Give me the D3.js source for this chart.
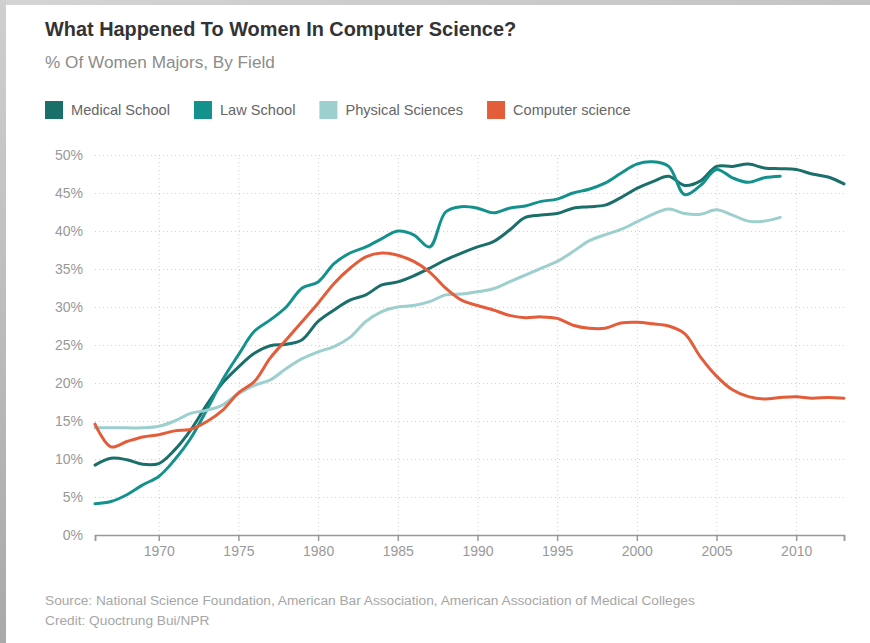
<!DOCTYPE html>
<html>
<head>
<meta charset="utf-8">
<script src="https://cdn.jsdelivr.net/npm/d3@7"></script>
<style>
  body { margin: 0; background: #fff; font-family: "Liberation Sans", Arial, sans-serif; }
</style>
</head>
<body>
<div id="chart"></div>
<script>
// data (% of women majors)
var years = d3.range(1966, 2014);
var medicalSchool = [9.2, 10.1, 9.9, 9.3, 9.4, 11.2, 13.8, 17.1, 20.0, 22.1, 23.9, 24.9, 25.1, 25.7, 28.1, 29.6, 30.9, 31.6, 32.9, 33.3, 34.1, 35.1, 36.2, 37.1, 37.9, 38.6, 40.1, 41.8, 42.1, 42.3, 43.0, 43.2, 43.4, 44.4, 45.6, 46.5, 47.2, 46.0, 46.6, 48.5, 48.5, 48.8, 48.3, 48.2, 48.1, 47.5, 47.1, 46.2];
var lawSchool = [4.1, 4.4, 5.3, 6.6, 7.7, 9.9, 12.7, 16.4, 20.4, 23.7, 26.8, 28.3, 30.0, 32.5, 33.3, 35.7, 37.1, 37.9, 39.0, 40.0, 39.5, 37.9, 42.5, 43.2, 43.0, 42.4, 43.0, 43.3, 43.9, 44.2, 45.0, 45.5, 46.3, 47.6, 48.8, 49.1, 48.5, 44.8, 46.0, 48.1, 47.0, 46.4, 47.0, 47.2];
var physicalSciences = [14.1, 14.1, 14.1, 14.1, 14.3, 15.0, 16.0, 16.4, 17.1, 18.6, 19.7, 20.4, 21.9, 23.2, 24.1, 24.8, 26.0, 28.1, 29.4, 30.0, 30.2, 30.7, 31.6, 31.7, 32.0, 32.4, 33.3, 34.2, 35.1, 36.0, 37.3, 38.7, 39.5, 40.2, 41.2, 42.2, 42.9, 42.3, 42.2, 42.8, 42.1, 41.3, 41.3, 41.8];
var computerScience = [14.6, 11.6, 12.3, 12.9, 13.2, 13.7, 13.9, 14.9, 16.4, 18.7, 20.2, 23.3, 25.7, 28.1, 30.5, 33.1, 35.1, 36.6, 37.1, 36.8, 36.0, 34.6, 32.5, 30.9, 30.2, 29.6, 28.9, 28.6, 28.7, 28.5, 27.6, 27.2, 27.2, 27.9, 28.0, 27.8, 27.5, 26.5, 23.4, 20.9, 19.1, 18.2, 17.9, 18.1, 18.2, 18.0, 18.1, 18.0];

var seriesNames = ["Medical School", "Law School", "Physical Sciences", "Computer science"];
var seriesColors = ["#1b6f6b", "#13918c", "#9ccfcd", "#e35d3a"];
var seriesValues = [medicalSchool, lawSchool, physicalSciences, computerScience];

var yTicks = [0, 5, 10, 15, 20, 25, 30, 35, 40, 45, 50];
var xTicks = [1970, 1975, 1980, 1985, 1990, 1995, 2000, 2005, 2010];

var svgWidth = 870;
var svgHeight = 643;

var margin = { top: 155, right: 26, bottom: 108, left: 95 };
var width = svgWidth - margin.left - margin.right;
var height = svgHeight - margin.top - margin.bottom;

var svg = d3.select("#chart")
  .append("svg")
  .attr("width", svgWidth)
  .attr("height", svgHeight);

// gray page edges
var defs = svg.append("defs");
var grad = defs.append("linearGradient").attr("id", "edge").attr("x1", 0).attr("x2", 1);
grad.append("stop").attr("offset", "0%").attr("stop-color", "#d4d4d4");
grad.append("stop").attr("offset", "100%").attr("stop-color", "#c4c4c4");
var gradV = defs.append("linearGradient").attr("id", "edgeV").attr("x1", 0).attr("x2", 0).attr("y1", 0).attr("y2", 1);
gradV.append("stop").attr("offset", "0%").attr("stop-color", "#cfcfcf");
gradV.append("stop").attr("offset", "100%").attr("stop-color", "#a9a9a9");

svg.append("rect").attr("width", svgWidth).attr("height", 5).attr("fill", "url(#edge)");
svg.append("rect").attr("width", 6).attr("height", svgHeight).attr("fill", "url(#edgeV)");

// title + subtitle
svg.append("text")
  .attr("x", 45)
  .attr("y", 36)
  .style("font-size", "19.9px")
  .style("font-weight", "bold")
  .style("fill", "#333")
  .text("What Happened To Women In Computer Science?");

svg.append("text")
  .attr("x", 45)
  .attr("y", 68)
  .style("font-size", "17.2px")
  .style("fill", "#8c8c8c")
  .text("% Of Women Majors, By Field");

// legend
var legend = svg.append("g").attr("transform", "translate(45, 101)");
var legendX = 0;
seriesNames.forEach(function(name, i) {
  var item = legend.append("g").attr("transform", `translate(${legendX}, 0)`);
  item.append("rect")
    .attr("width", 18)
    .attr("height", 18)
    .attr("fill", seriesColors[i]);
  var label = item.append("text")
    .attr("x", 26)
    .attr("y", 14)
    .style("font-size", "14.6px")
    .style("fill", "#666")
    .text(name);
  legendX += 26 + label.node().getComputedTextLength() + 24;
});

var chartGroup = svg.append("g")
  .attr("transform", `translate(${margin.left}, ${margin.top})`);

var xScale = d3.scaleLinear()
  .domain([1966, 2013])
  .range([0, width]);

var yScale = d3.scaleLinear()
  .domain([0, 50])
  .range([height, 0]);

// horizontal dotted grid
var yGrid = chartGroup.append("g")
  .call(d3.axisLeft(yScale).tickValues(yTicks.slice(1)).tickSize(-width).tickFormat(""));
yGrid.select(".domain").remove();
yGrid.selectAll("line")
  .attr("stroke", "#cfcfcf")
  .attr("stroke-dasharray", "1,3");

// vertical dotted grid
var xGrid = chartGroup.append("g")
  .attr("transform", `translate(0, ${height})`)
  .call(d3.axisBottom(xScale).tickValues(xTicks).tickSize(-height).tickFormat(""));
xGrid.select(".domain").remove();
xGrid.selectAll("line")
  .attr("stroke", "#cfcfcf")
  .attr("stroke-dasharray", "1,3");

// y axis labels
var yAxis = chartGroup.append("g")
  .call(d3.axisLeft(yScale).tickValues(yTicks).tickSize(0).tickPadding(12).tickFormat(d => d + "%"));
yAxis.select(".domain").remove();
yAxis.selectAll("text")
  .style("font-family", "'Liberation Sans', Arial, sans-serif")
  .style("font-size", "14px")
  .style("fill", "#999");

// x axis
var xAxis = chartGroup.append("g")
  .attr("transform", `translate(0, ${height})`)
  .call(d3.axisBottom(xScale).tickValues([1966].concat(xTicks, [2013])).tickSize(6).tickPadding(5)
    .tickFormat(d => (d === 1966 || d === 2013) ? "" : d));
xAxis.select(".domain").attr("stroke", "#999").attr("stroke-width", 1.5);
xAxis.selectAll("line").attr("stroke", "#999").attr("stroke-width", 1.5);
xAxis.selectAll("text")
  .style("font-family", "'Liberation Sans', Arial, sans-serif")
  .style("font-size", "14px")
  .style("fill", "#999");

// lines
var line = d3.line()
  .x(d => xScale(d.year))
  .y(d => yScale(d.value))
  .curve(d3.curveCatmullRom.alpha(0.5));

seriesValues.forEach(function(values, i) {
  var points = values.map(function(v, j) { return { year: years[j], value: v }; });
  chartGroup.append("path")
    .datum(points)
    .attr("fill", "none")
    .attr("stroke", seriesColors[i])
    .attr("stroke-width", 3)
    .attr("stroke-linejoin", "round")
    .attr("stroke-linecap", "round")
    .attr("d", line);
});

// footer
svg.append("text")
  .attr("x", 45)
  .attr("y", 605)
  .style("font-size", "13.7px")
  .style("fill", "#a6a6a6")
  .text("Source: National Science Foundation, American Bar Association, American Association of Medical Colleges");

svg.append("text")
  .attr("x", 45)
  .attr("y", 625)
  .style("font-size", "13.7px")
  .style("fill", "#a6a6a6")
  .text("Credit: Quoctrung Bui/NPR");
</script>
</body>
</html>
